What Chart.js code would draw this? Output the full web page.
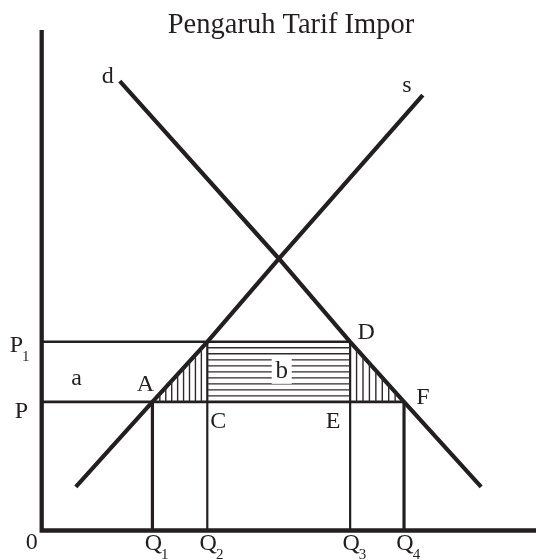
<!DOCTYPE html>
<html>
<head>
<meta charset="utf-8">
<script src="https://cdn.jsdelivr.net/npm/chart.js@4/dist/chart.umd.min.js"></script>
<style>
  html, body { margin: 0; padding: 0; background: #ffffff; }
  #wrap { width: 536px; height: 560px; position: relative; }
</style>
</head>
<body>
<div id="wrap"><canvas id="c" width="536" height="560"></canvas></div>
<script>
// ---- data (in chart units 0..100) ----
const title = "Pengaruh Tarif Impor";
const priceLevels = { P: 25.7, P1: 37.7 };
const quantities = { Q1: 22.4, Q2: 33.5, Q3: 62.4, Q4: 73.3 };
const supplyX = [6.9, 22.4, 33.5, 48.0, 77.1];
const supplyY = [8.7, 25.7, 37.7, 54.3, 87.0];
const demandX = [15.8, 48.0, 62.4, 73.3, 88.9];
const demandY = [89.8, 54.3, 37.7, 25.7, 8.7];
const axisMax = 100;

const P = priceLevels.P, P1 = priceLevels.P1;
const { Q1, Q2, Q3, Q4 } = quantities;
const INK = '#231f20';

function pts(xs, ys) { return xs.map((x, i) => ({ x, y: ys[i] })); }
function seg(a, b) { return [a, b]; }

// hatch segments (derived from the values above)
const hatch = [];
const hStepY = (P1 - P) / 10;
for (let k = 1; k < 10; k++) {
  hatch.push({ x: Q2, y: P + hStepY * k }, { x: Q3, y: P + hStepY * k }, { x: null, y: null });
}
const stepA = 1.2;
for (let x = Q2 - stepA; x > Q1 + 0.3; x -= stepA) {
  const top = P + (x - Q1) / (Q2 - Q1) * (P1 - P);
  hatch.push({ x, y: P }, { x, y: top }, { x: null, y: null });
}
const stepD = 1.3;
for (let x = Q3 + stepD; x < Q4 - 0.3; x += stepD) {
  const top = P1 - (x - Q3) / (Q4 - Q3) * (P1 - P);
  hatch.push({ x, y: P }, { x, y: top }, { x: null, y: null });
}

function lineDs(data, width, extra) {
  return Object.assign({
    data, showLine: true, borderColor: INK, borderWidth: width,
    pointRadius: 0, pointHoverRadius: 0, fill: false, tension: 0,
    clip: false, spanGaps: false, borderJoinStyle: 'miter'
  }, extra || {});
}

const datasets = [
  lineDs(hatch, 1.4, { borderColor: '#2e2a2b' }),
  lineDs([{ x: 0, y: axisMax }, { x: 0, y: 0 }, { x: axisMax, y: 0 }], 4.3),
  lineDs(seg({ x: 0, y: P1 }, { x: Q3, y: P1 }), 2.6),
  lineDs(seg({ x: 0, y: P }, { x: Q4, y: P }), 2.6),
  lineDs(seg({ x: Q1, y: 0 }, { x: Q1, y: P }), 3.2),
  lineDs(seg({ x: Q2, y: 0 }, { x: Q2, y: P1 }), 2.2),
  lineDs(seg({ x: Q3, y: 0 }, { x: Q3, y: P1 }), 2.2),
  lineDs(seg({ x: Q4, y: 0 }, { x: Q4, y: P }), 3.2),
  lineDs(pts(supplyX, supplyY), 4.2),
  lineDs(pts(demandX, demandY), 4.2)
];

const SERIF = '"Liberation Serif", "DejaVu Serif", serif';

const textPlugin = {
  id: 'texts',
  afterDatasetsDraw(chart) {
    const { ctx, scales: { x: xs, y: ys } } = chart;
    const px = v => xs.getPixelForValue(v);
    const py = v => ys.getPixelForValue(v);
    ctx.save();
    ctx.fillStyle = INK;
    ctx.textBaseline = 'alphabetic';

    function put(t, x, y, size, align) {
      ctx.font = size + 'px ' + SERIF;
      ctx.textAlign = align || 'center';
      ctx.fillText(t, x, y);
    }
    function sub(main, s, x, y, align) {
      ctx.font = '24px ' + SERIF;
      const w = ctx.measureText(main).width;
      let left = align === 'left' ? x : x - w / 2;
      ctx.textAlign = 'left';
      ctx.fillText(main, left, y);
      ctx.font = '15px ' + SERIF;
      ctx.fillText(s, left + w - 1, y + 9);
    }

    // title
    put(title, 291, 33, 28.5);

    // white box behind b
    const bx = px((Q2 + Q3) / 2) + 3, by = py((P + P1) / 2);
    ctx.fillStyle = '#ffffff';
    ctx.fillRect(bx - 10, by - 13, 20, 25);
    ctx.fillStyle = INK;
    put('b', bx, by + 6, 25);

    put('d', px(demandX[0]) - 12, py(demandY[0]) + 2, 24);
    put('s', px(supplyX[4]) - 16, py(supplyY[4]) - 3, 24);
    put('a', px(0) + 35, py((P + P1) / 2) + 13, 24);
    put('A', px(Q1) - 7, py(P) - 11, 24);
    put('C', px(Q2) + 11, py(P) + 26, 24);
    put('D', px(Q3) + 16, py(P1) - 3, 24);
    put('E', px(Q3) - 17, py(P) + 26, 24);
    put('F', px(Q4) + 19, py(P) + 2, 24);
    put('0', px(0) - 10, py(0) + 18, 24);

    sub('P', '1', px(0) - 32, py(P1) + 10, 'left');
    put('P', px(0) - 27, py(P) + 16, 24, 'left');

    sub('Q', '1', px(Q1) + 1, py(0) + 19);
    sub('Q', '2', px(Q2) + 1, py(0) + 19);
    sub('Q', '3', px(Q3) + 1, py(0) + 19);
    sub('Q', '4', px(Q4) + 1, py(0) + 19);
    ctx.restore();
  }
};

new Chart(document.getElementById('c'), {
  type: 'scatter',
  data: { datasets },
  options: {
    responsive: false,
    animation: false,
    events: [],
    layout: { padding: { left: 41.7, right: 0, top: 30, bottom: 29.5 } },
    plugins: { legend: { display: false }, tooltip: { enabled: false }, title: { display: false } },
    scales: {
      x: { type: 'linear', min: 0, max: axisMax, display: false },
      y: { type: 'linear', min: 0, max: axisMax, display: false }
    }
  },
  plugins: [textPlugin]
});
</script>
</body>
</html>
